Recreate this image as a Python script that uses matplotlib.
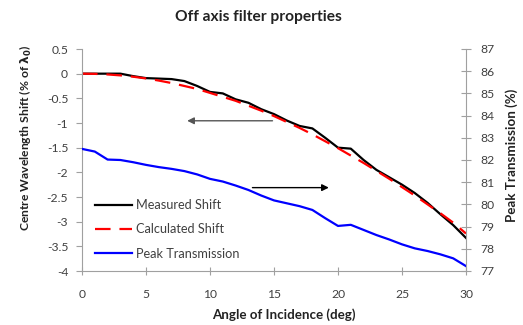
import numpy as np
import matplotlib
matplotlib.use('Agg')
import matplotlib.pyplot as plt

plt.rcParams['font.family'] = ['Lato', 'DejaVu Sans']

# angle of incidence (deg)
angle = [0, 1, 2, 3, 4, 5, 6, 7, 8, 9, 10, 11, 12, 13, 14, 15,
         16, 17, 18, 19, 20, 21, 22, 23, 24, 25, 26, 27, 28, 29, 30]
# centre wavelength shift (% of lambda0)
measured = [0, 0, 0, 0, -0.05, -0.09, -0.10, -0.11, -0.15, -0.25, -0.37,
            -0.40, -0.52, -0.59, -0.72, -0.82, -0.95, -1.06, -1.11, -1.30,
            -1.50, -1.52, -1.75, -1.95, -2.10, -2.25, -2.42, -2.62, -2.85,
            -3.07, -3.33]
calculated = [0, -0.004, -0.016, -0.035, -0.062, -0.097, -0.14, -0.19, -0.25,
              -0.31, -0.39, -0.47, -0.55, -0.65, -0.75, -0.86, -0.98, -1.10,
              -1.23, -1.37, -1.51, -1.66, -1.81, -1.97, -2.13, -2.30, -2.47,
              -2.65, -2.83, -3.02, -3.24]
# peak transmission (%)
transmission = [82.50, 82.38, 82.02, 82.00, 81.90, 81.78, 81.68, 81.60, 81.50,
                81.35, 81.15, 81.03, 80.85, 80.65, 80.40, 80.18, 80.05, 79.92,
                79.75, 79.38, 79.03, 79.08, 78.85, 78.62, 78.42, 78.20, 78.02,
                77.90, 77.75, 77.57, 77.22]

txt = '#404040'
spine = '#a0a0a0'

fig = plt.figure(figsize=(5.23, 3.25), dpi=100)
ax = fig.add_axes([82/523, 1-271/325, (466-82)/523, (271-49)/325])
ax2 = ax.twinx()

l1, = ax.plot(angle, measured, color='black', lw=1.6, label='Measured Shift')
l2, = ax.plot(angle, calculated, color='#ff0000', lw=1.6, dashes=(7, 4),
              label='Calculated Shift')
l3, = ax2.plot(angle, transmission, color='#0000ff', lw=1.6,
               label='Peak Transmission')

ax.set_xlim(0, 30)
ax.set_ylim(-4, 0.5)
ax2.set_ylim(77, 87)
ax.set_xticks(np.arange(0, 31, 5))
ax.set_yticks(np.arange(-4, 0.51, 0.5))
ax.set_yticklabels(['-4', '-3.5', '-3', '-2.5', '-2', '-1.5', '-1', '-0.5', '0', '0.5'])
ax2.set_yticks(np.arange(77, 88, 1))

for a in (ax, ax2):
    a.spines['top'].set_visible(False)
    for s in a.spines.values():
        s.set_color(spine)
ax.spines['right'].set_visible(False)
ax2.spines['left'].set_visible(False)
ax2.spines['bottom'].set_visible(False)

ax.tick_params(axis='y', direction='out', length=4, color=spine, labelcolor=txt,
               labelsize=8.7, pad=6)
ax.tick_params(axis='x', direction='inout', length=6, color=spine, labelcolor=txt,
               labelsize=8.7, pad=10)
ax2.tick_params(axis='y', direction='inout', length=7, color=spine, labelcolor=txt,
                labelsize=8.7, pad=7)

# arrows pointing to the relevant axis
ax.annotate('', xy=(8.0, -0.955), xytext=(15.1, -0.955),
            arrowprops=dict(arrowstyle='-|>', color='#555555', lw=1,
                            mutation_scale=10))
ax.annotate('', xy=(19.5, -2.31), xytext=(13.1, -2.31),
            arrowprops=dict(arrowstyle='-|>', color='black', lw=1,
                            mutation_scale=10))

ax.legend(handles=[l1, l2, l3], loc='lower left', bbox_to_anchor=(0.003, 0.0),
          frameon=False, fontsize=9.2, handlelength=2.9, handletextpad=0.3,
          labelspacing=0.95, labelcolor=txt)

fig.text(258/523, 1-17/325, 'Off axis filter properties', ha='center',
         va='center', fontsize=11.2, fontweight='bold', color='#222222')
fig.text(284/523, 1-315/325, 'Angle of Incidence (deg)', ha='center',
         va='center', fontsize=9.6, fontweight='bold', color='#222222')
fig.text(26/523, 1-138/325, r'Centre Wavelength Shift (% of $\mathbf{\lambda_0}$)',
         ha='center', va='center', rotation=90, fontsize=8.7, fontweight='bold',
         color='#222222')
fig.text(512/523, 1-155/325, 'Peak Transmission (%)', ha='center',
         va='center', rotation=90, fontsize=9.6, fontweight='bold',
         color='#222222')

fig.savefig('out.png', dpi=100)
